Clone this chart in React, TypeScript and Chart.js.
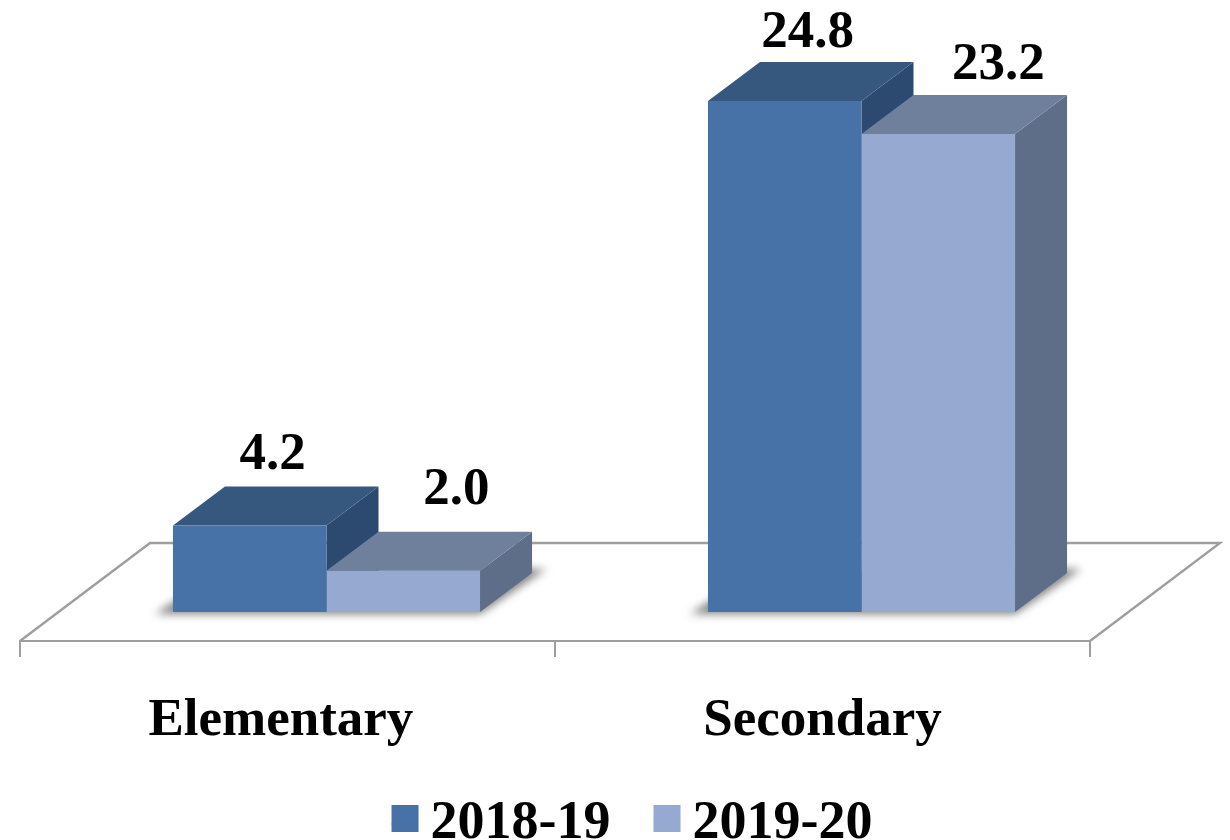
import React, { useEffect, useRef } from "react";
import { Chart, registerables } from "chart.js";

Chart.register(...registerables);

const categories = ["Elementary ", "Secondary"];
const seriesNames = ["2018-19", "2019-20"];
const values2018 = [4.2, 24.8];
const values2019 = [2.0, 23.2];

const FONT = "'Liberation Serif', 'Times New Roman', serif";
const frontColors = ["#4672A8", "#96A9D1"];
const topColors = ["#36587F", "#6F809D"];
const sideColors = ["#2C4A70", "#5E6D88"];
const LINE = "#9E9E9E";

const FLOOR = { dx: 130, dy: 98 };
const BAR_SHIFT = { x: 39, y: 29 };
const BAR_DEPTH = { x: 52, y: 39 };
const LABEL_SHIFT = [
  [[23, -56], [53, -67]],
  [[23, -54], [60, -55]],
];

const plugin3d: any = {
  id: "plugin3d",
  afterLayout(chart: any) {
    const lg = chart.legend;
    if (!lg) return;
    const h = lg.height;
    lg.left += 77;
    lg.right += 77;
    lg.top = 754;
    lg.bottom = 754 + h;
    chart.scales.x.bottom = 790;
  },
  beforeDatasetsDraw(chart: any) {
    const { ctx, scales } = chart;
    const x = scales.x;
    const b = x.top;
    ctx.save();
    ctx.strokeStyle = LINE;
    ctx.lineWidth = 2.4;
    ctx.lineJoin = "miter";
    ctx.beginPath();
    ctx.moveTo(x.left, b);
    ctx.lineTo(x.left + FLOOR.dx, b - FLOOR.dy);
    ctx.lineTo(x.right + FLOOR.dx, b - FLOOR.dy);
    ctx.lineTo(x.right, b);
    ctx.stroke();
    ctx.restore();

    ctx.save();
    ctx.translate(BAR_SHIFT.x, -BAR_SHIFT.y);
    const m0 = chart.getDatasetMeta(0).data;
    const m1 = chart.getDatasetMeta(1).data;
    // soft floor shadows
    m0.forEach((el: any, i: number) => {
      const l = el.x - el.width / 2;
      const r = m1[i].x + m1[i].width / 2;
      const base = el.base;
      ctx.save();
      ctx.filter = "blur(4px)";
      ctx.fillStyle = "rgba(100,100,100,0.8)";
      ctx.beginPath();
      ctx.moveTo(l - 18, base + 2);
      ctx.lineTo(r, base + 2);
      ctx.lineTo(r + 66, base - 43);
      ctx.lineTo(l + 52, base - 43);
      ctx.closePath();
      ctx.fill();
      ctx.restore();
    });
    // side and top faces
    [m0, m1].forEach((meta: any[], d: number) => {
      meta.forEach((el: any) => {
        const l = el.x - el.width / 2;
        const r = el.x + el.width / 2;
        ctx.fillStyle = sideColors[d];
        ctx.beginPath();
        ctx.moveTo(r, el.y);
        ctx.lineTo(r + BAR_DEPTH.x, el.y - BAR_DEPTH.y);
        ctx.lineTo(r + BAR_DEPTH.x, el.base - BAR_DEPTH.y);
        ctx.lineTo(r, el.base);
        ctx.closePath();
        ctx.fill();
        ctx.fillStyle = topColors[d];
        ctx.beginPath();
        ctx.moveTo(l, el.y);
        ctx.lineTo(l + BAR_DEPTH.x, el.y - BAR_DEPTH.y);
        ctx.lineTo(r + BAR_DEPTH.x, el.y - BAR_DEPTH.y);
        ctx.lineTo(r, el.y);
        ctx.closePath();
        ctx.fill();
      });
    });
  },
  afterDatasetsDraw(chart: any) {
    const { ctx } = chart;
    ctx.fillStyle = "#000";
    ctx.font = `bold 53px ${FONT}`;
    ctx.textAlign = "center";
    ctx.textBaseline = "alphabetic";
    chart.data.datasets.forEach((ds: any, d: number) => {
      chart.getDatasetMeta(d).data.forEach((el: any, i: number) => {
        const [ox, oy] = LABEL_SHIFT[i][d];
        ctx.fillText(ds.data[i].toFixed(1), el.x + ox, el.y + oy);
      });
    });
    ctx.restore();
  },
  afterDraw(chart: any) {
    const { ctx, legend } = chart;
    legend.legendHitBoxes.forEach((box: any, i: number) => {
      ctx.fillStyle = frontColors[i];
      ctx.fillRect(box.left, 805, 27, 27);
    });
  },
};

export default function App() {
  const ref = useRef<HTMLCanvasElement>(null);
  useEffect(() => {
    document.body.style.margin = "0";
    document.body.style.background = "#fff";
    const chart = new Chart(ref.current as HTMLCanvasElement, {
      type: "bar",
      data: {
        labels: categories,
        datasets: [
          { label: seriesNames[0], data: values2018, backgroundColor: frontColors[0], clip: false },
          { label: seriesNames[1], data: values2019, backgroundColor: frontColors[1], clip: false },
        ] as any,
      },
      plugins: [plugin3d],
      options: {
        animation: false,
        responsive: false,
        maintainAspectRatio: false,
        layout: { padding: { left: 20, right: 140, top: 23, bottom: 0 } },
        datasets: { bar: { categoryPercentage: 0.574, barPercentage: 1 } },
        plugins: {
          tooltip: { enabled: false },
          legend: {
            position: "bottom",
            labels: {
              boxWidth: 12,
              boxHeight: 1,
              padding: 43,
              color: "#000",
              font: { family: FONT, weight: "bold", size: 54 },
            },
          },
        },
        scales: {
          x: {
            afterFit(scale: any) {
              scale.height = 199 - scale.chart.legend.height;
            },
            border: { color: LINE, width: 2 },
            grid: { drawOnChartArea: false, drawTicks: true, tickLength: 16, color: LINE, lineWidth: 2 },
            ticks: {
              color: "#000",
              padding: 33,
              maxRotation: 0,
              font: { family: FONT, weight: "bold", size: 53 },
            },
          },
          y: { display: false, min: 0, max: 30 },
        },
      } as any,
    });
    return () => chart.destroy();
  }, []);
  return (
    <div style={{ width: 1230, height: 840, background: "#fff" }}>
      <canvas ref={ref} width={1230} height={840} style={{ display: "block" }} />
    </div>
  );
}
